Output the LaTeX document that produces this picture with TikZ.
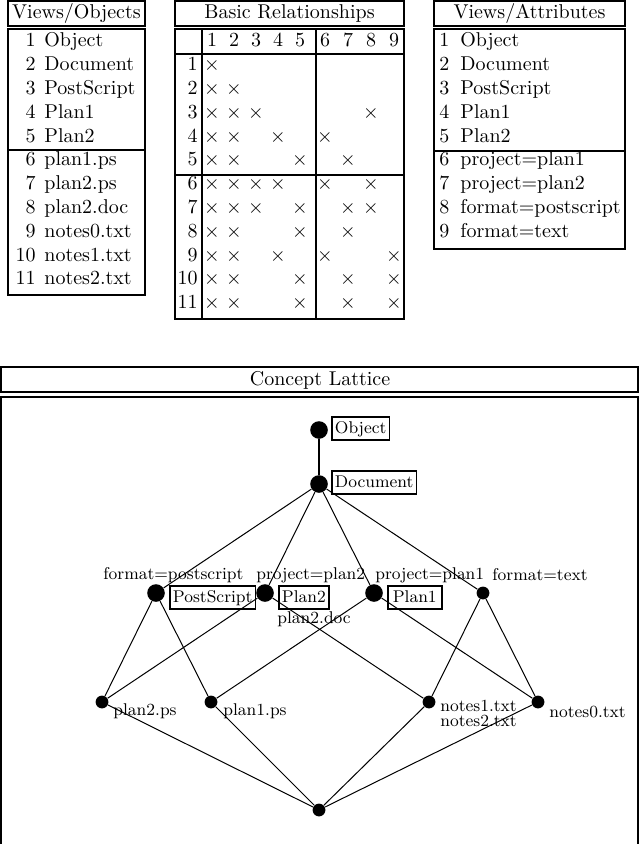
\documentclass[tikz,border=0pt]{standalone}
\begin{document}
\begin{tikzpicture}[x=0.5pt,y=-0.5pt]
\tikzset{
 frame/.style={line width=1pt},
 sep/.style={line width=1pt},
 tt/.style={inner sep=0pt, font=\fontsize{10}{12}\selectfont},
 lab/.style={inner sep=0pt, font=\fontsize{8.5}{10}\selectfont},
 lbox/.style={draw, line width=0.75pt, inner xsep=1.6pt, inner ysep=1.5pt, text height=6.6pt, text depth=2pt, font=\fontsize{8.5}{10}\selectfont},
 bigdot/.style={circle, fill, inner sep=0pt, minimum size=8.8pt},
 smalldot/.style={circle, fill, inner sep=0pt, minimum size=6.4pt},
 edge/.style={line width=0.5pt},
 topedge/.style={line width=0.9pt},
}
\useasboundingbox (0,0) rectangle (640,844);

% ---------- Views/Objects ----------
\draw[frame] (8,1) rectangle (145,26);
\node[tt, anchor=base] (hObj) at (76.5,18.5) {Views/Objects};
\draw[frame] (8,29) rectangle (145,295);
\draw[sep] (8,150) -- (145,150);
\foreach \i/\t in {1/Object,2/Document,3/PostScript,4/Plan1,5/Plan2,6/plan1.ps,7/plan2.ps,8/plan2.doc,9/notes0.txt,10/notes1.txt,11/notes2.txt}{
  \node[tt, anchor=base east, name=on\i] at (36,{47+(\i-1)*23.8}) {\i};
  \node[tt, anchor=base west, name=ot\i] at (44,{47+(\i-1)*23.8}) {\t};
}

% ---------- Basic Relationships ----------
\draw[frame] (175,1) rectangle (404,26);
\node[tt, anchor=base] (hRel) at (289.5,18.5) {Basic Relationships};
\draw[frame] (175,29) rectangle (404,319);
\draw[sep] (202,29) -- (202,319);
\draw[sep] (316,29) -- (316,319);
\draw[sep] (175,54) -- (404,54);
\draw[sep] (175,175) -- (404,175);
\foreach \c in {1,...,9}{
  \pgfmathsetmacro{\cx}{{212,234,256,278,300,325,348,371,394}[\c-1]}
  \node[tt, anchor=base, name=hc\c] at (\cx,47) {\c};
}
\foreach \r in {1,...,11}{
  \node[tt, anchor=base east, name=hr\r] at (198,{47+\r*23.8}) {\r};
}
\foreach \r/\cols in {1/{1},2/{1,2},3/{1,2,3,8},4/{1,2,4,6},5/{1,2,5,7},6/{1,2,3,4,6,8},7/{1,2,3,5,7,8},8/{1,2,5,7},9/{1,2,4,6,9},10/{1,2,5,7,9},11/{1,2,5,7,9}}{
  \foreach \c in \cols {
    \pgfmathsetmacro{\cx}{{212,234,256,278,300,325,348,371,394}[\c-1]}
    \node[tt, anchor=base, name=x\r-\c] at (\cx,{47+\r*23.8}) {$\times$};
  }
}

% ---------- Views/Attributes ----------
\draw[frame] (434,1) rectangle (625,26);
\node[tt, anchor=base] (hAtt) at (529.5,18.5) {Views/Attributes};
\draw[frame] (434,29) rectangle (625,249);
\draw[sep] (434,151) -- (625,151);
\foreach \i/\t in {1/Object,2/Document,3/PostScript,4/Plan1,5/Plan2,6/project=plan1,7/project=plan2,8/format=postscript,9/format=text}{
  \node[tt, anchor=base west, name=an\i] at (439,{47+(\i-1)*23.8}) {\i};
  \node[tt, anchor=base west, name=at\i] at (460,{47+(\i-1)*23.8}) {\t};
}

% ---------- Concept Lattice ----------
\draw[frame] (1,367) rectangle (638,392);
\node[tt, anchor=base] (hLat) at (320,385) {Concept Lattice};
\draw[frame] (1,844) -- (1,397) -- (638,397) -- (638,844);

\node[bigdot] (top) at (319,430) {};
\node[bigdot] (doc) at (319,484) {};
\node[bigdot] (ps) at (156,593) {};
\node[bigdot] (p2) at (265,593) {};
\node[bigdot] (p1) at (374,593) {};
\node[smalldot] (txt) at (483,593) {};
\node[smalldot] (p2ps) at (102,702) {};
\node[smalldot] (p1ps) at (211,702) {};
\node[smalldot] (n1) at (429,702) {};
\node[smalldot] (n0) at (538,702) {};
\node[smalldot] (bot) at (319,810) {};

\draw[topedge] (top) -- (doc);
\foreach \a/\b in {doc/ps,doc/p2,doc/p1,doc/txt,ps/p2ps,ps/p1ps,p2/p2ps,p2/n1,p1/p1ps,p1/n0,txt/n1,txt/n0,bot/p2ps,bot/p1ps,bot/n1,bot/n0}{
  \draw[edge] (\a) -- (\b);
}

\node[lbox, anchor=west] (lObject) at (331,428.5) {Object};
\node[lbox, anchor=west] (lDocument) at (331,482.5) {Document};
\node[lbox, anchor=west] (lPS) at (169,597.5) {PostScript};
\node[lbox, anchor=west] (lPlan2) at (278,597.5) {Plan2};
\node[lbox, anchor=west, minimum width=27pt] (lPlan1) at (387,597.5) {Plan1};

\node[lab, anchor=base west] (aPS) at (103,579) {format=postscript};
\node[lab, anchor=base west] (aP2) at (256,579) {project=plan2};
\node[lab, anchor=base west] (aP1) at (375,579) {project=plan1};
\node[lab, anchor=base west] (aTxt) at (492,580) {format=text};
\node[lab, anchor=base west] (oDoc) at (277,623) {plan2.doc};
\node[lab, anchor=base west] (oP2ps) at (113,715) {plan2.ps};
\node[lab, anchor=base west] (oP1ps) at (223,715) {plan1.ps};
\node[lab, anchor=base west] (oN1) at (440,711) {notes1.txt};
\node[lab, anchor=base west] (oN2) at (440,726) {notes2.txt};
\node[lab, anchor=base west] (oN0) at (549,717) {notes0.txt};
\end{tikzpicture}
\end{document}
